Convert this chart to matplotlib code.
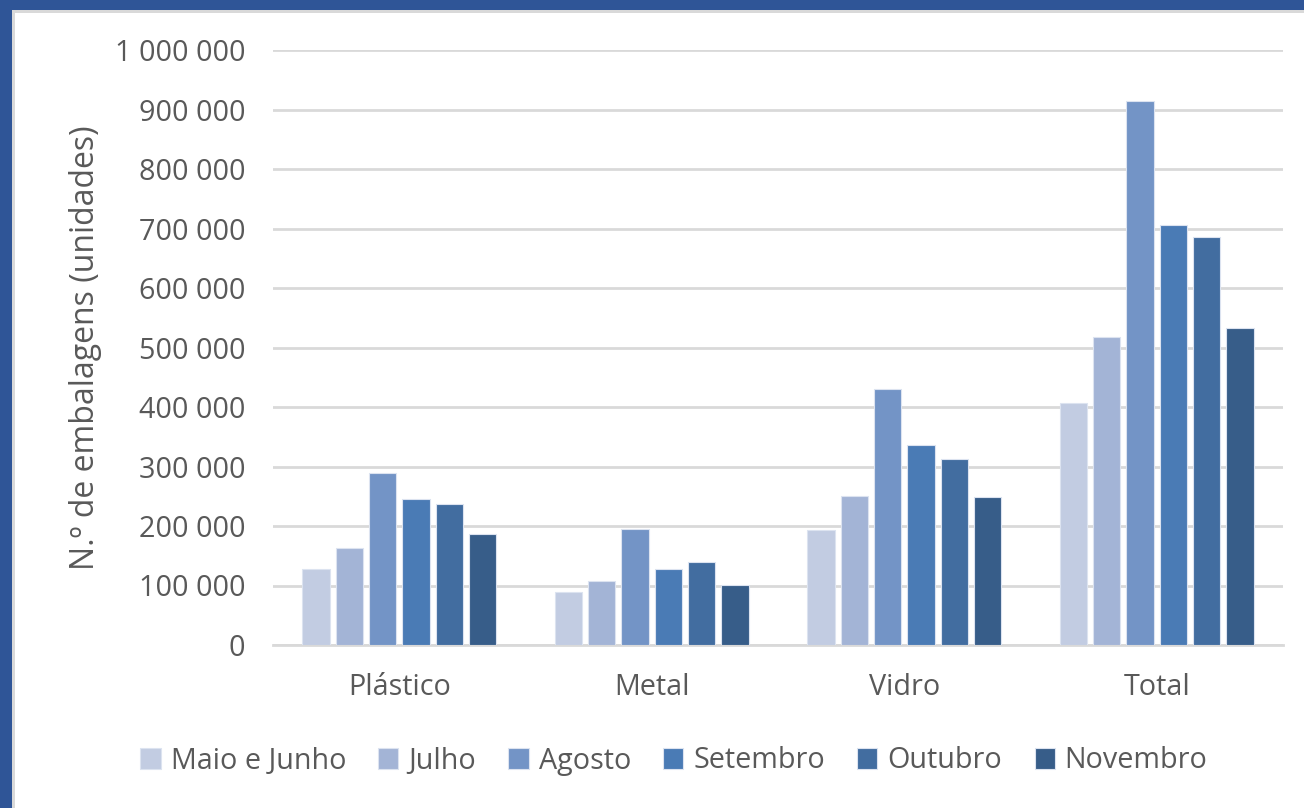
import matplotlib
matplotlib.use("Agg")
import matplotlib.pyplot as plt
from matplotlib.patches import Rectangle
from matplotlib.ticker import FuncFormatter
import numpy as np

categories = ["Plástico", "Metal", "Vidro", "Total"]
series_names = ["Maio e Junho", "Julho", "Agosto", "Setembro", "Outubro", "Novembro"]
maio_junho = [127000, 89000, 193000, 407000]
julho = [163000, 107000, 250000, 518000]
agosto = [289000, 195000, 430000, 914000]
setembro = [245000, 128000, 336000, 706000]
outubro = [237000, 139000, 313000, 686000]
novembro = [186000, 101000, 249000, 533000]
series_values = [maio_junho, julho, agosto, setembro, outubro, novembro]
colors = ["#C2CCE2", "#A3B4D6", "#7394C6", "#4A7BB5", "#426DA0", "#375D89"]
y_ticks = [0, 100000, 200000, 300000, 400000, 500000, 600000, 700000, 800000, 900000, 1000000]

plt.rcParams['font.family'] = ['Open Sans', 'DejaVu Sans']
text_color = "#595959"

W, H = 1304, 808
fig = plt.figure(figsize=(W / 100, H / 100), dpi=100)
fig.patch.set_facecolor("white")

# blue frame (top and left) with light inner line
fig.patches.append(Rectangle((0, 1 - 10 / H), 1, 10 / H, transform=fig.transFigure,
                             facecolor="#2F5597", edgecolor="none", zorder=0))
fig.patches.append(Rectangle((0, 0), 12 / W, 1, transform=fig.transFigure,
                             facecolor="#2F5597", edgecolor="none", zorder=0))
fig.patches.append(Rectangle((12 / W, 0), 3 / W, 1 - 10 / H, transform=fig.transFigure,
                             facecolor="#D9D9D9", edgecolor="none", zorder=0))
fig.patches.append(Rectangle((12 / W, 1 - 13 / H), 1, 3 / H, transform=fig.transFigure,
                             facecolor="#D9D9D9", edgecolor="none", zorder=0))

ax = fig.add_axes([273 / W, 163 / H, 1010 / W, 595 / H])
x = np.arange(len(categories))
step = 0.132
width = 0.108
for i, (name, vals, c) in enumerate(zip(series_names, series_values, colors)):
    offs = (i - (len(series_names) - 1) / 2) * step
    ax.bar(x + offs, vals, width=width, color=c, edgecolor="#DCE3F0", linewidth=0.8,
           label=name, zorder=3)

ax.set_xlim(-0.5, len(categories) - 0.5)
ax.set_ylim(0, 1000000)
ax.set_yticks(y_ticks)
ax.yaxis.set_major_formatter(FuncFormatter(lambda v, p: f"{int(v):,}".replace(",", " ")))
ax.set_xticks(x)
ax.set_xticklabels(categories)
ax.tick_params(axis="both", length=0, colors=text_color, labelsize=20.7)
ax.tick_params(axis="y", pad=20)
ax.tick_params(axis="x", pad=20)
ax.grid(axis="y", color="#D9D9D9", linewidth=2, zorder=0)
for s in ["top", "right", "left"]:
    ax.spines[s].set_visible(False)
ax.spines["bottom"].set_color("#D9D9D9")
ax.spines["bottom"].set_linewidth(2)
ax.set_ylabel("N.º de embalagens (unidades)", color=text_color, fontsize=23)
ax.yaxis.set_label_coords(-0.169, 0.5)

handles, labels = ax.get_legend_handles_labels()
leg = fig.legend(handles, labels, loc="center", bbox_to_anchor=(0.5 + 22 / W, 1 - 761 / H),
                 ncol=6, frameon=False, fontsize=20.7, handlelength=0.7, handleheight=0.7,
                 handletextpad=0.35, columnspacing=1.12)
for t in leg.get_texts():
    t.set_color(text_color)

fig.savefig("out.png", dpi=100)
